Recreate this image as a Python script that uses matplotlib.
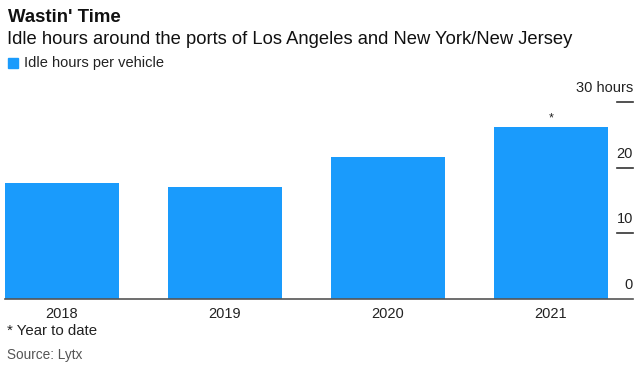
import numpy as np
import matplotlib.pyplot as plt

plt.rcParams['font.family'] = ['Liberation Sans', 'DejaVu Sans']

years = ['2018', '2019', '2020', '2021']
idle_hours = [17.6, 17.0, 21.6, 26.2]
yticks = [0, 10, 20, 30]
ytick_labels = ['0', '10', '20', '30 hours']
blue = '#1A9BFC'

W, H = 640, 371
fig = plt.figure(figsize=(W/100, H/100), dpi=100)
ax = fig.add_axes([5/W, 1-299/H, 628/W, 197/H])

x = np.arange(len(years))
ax.bar(x, idle_hours, width=0.7, color=blue, zorder=2)
ax.set_xlim(-0.35, 3.503)
ax.set_ylim(0, 30)

# star on the year-to-date bar
ax.annotate('*', (x[-1], idle_hours[-1]), xytext=(0, 2), textcoords='offset points',
            ha='center', va='bottom', fontsize=9, color='#222222')

for s in ['top', 'left', 'right']:
    ax.spines[s].set_visible(False)
ax.spines['bottom'].set_color('#555555')
ax.spines['bottom'].set_linewidth(1.2)

ax.set_xticks(x)
ax.set_xticklabels(years, fontsize=10.5, color='#222222')
ax.tick_params(axis='x', length=0, pad=6)

# right-side short tick marks with labels above them
ax.set_yticks([])
for v in yticks[1:]:
    ax.plot([3.405, 3.503], [v, v], color='#333333', lw=1.2, clip_on=False)
for v, lab in zip(yticks, ytick_labels):
    ax.annotate(lab, (3.503, v), xytext=(0, 5), textcoords='offset points',
                ha='right', va='bottom', fontsize=10.5, color='#222222')

fig.text(8/W, 1-17/H, "Wastin' Time", fontsize=13.4, fontweight='bold', va='center', color='#111111')
fig.text(7/W, 1-40/H, 'Idle hours around the ports of Los Angeles and New York/New Jersey',
         fontsize=13.2, va='center', color='#111111')
fig.patches.append(plt.Rectangle((8/W, 1-68/H), 10/W, 10/H, transform=fig.transFigure,
                                 color=blue, figure=fig))
fig.text(24/W, 1-63/H, 'Idle hours per vehicle', fontsize=10.5, va='center', color='#222222')
fig.text(7/W, 1-331/H, '* Year to date', fontsize=10.8, va='center', color='#222222')
fig.text(7/W, 1-355/H, 'Source: Lytx', fontsize=9.8, va='center', color='#555555')

fig.savefig('out.png', dpi=100)
